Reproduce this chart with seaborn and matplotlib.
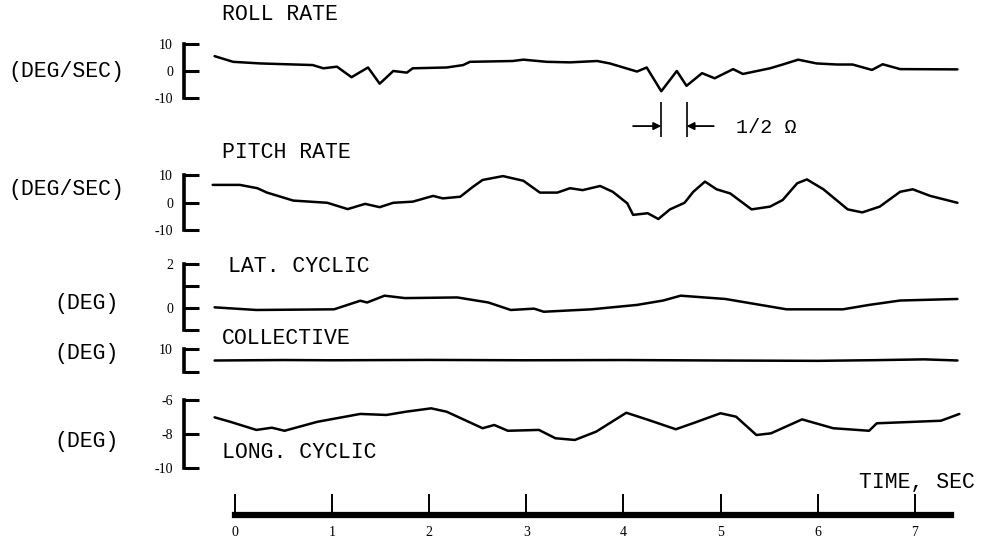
import matplotlib
matplotlib.use("Agg")
import numpy as np
import matplotlib.pyplot as plt
import seaborn as sns

# ---- recorded time histories ------------------------------------------
roll_t = [-0.21, -0.02, 0.26, 0.80, 0.91, 1.05, 1.20, 1.37, 1.49, 1.63, 1.77, 1.83,
          2.18, 2.35, 2.42, 2.86, 2.97, 3.21, 3.45, 3.73, 3.86, 4.14, 4.24, 4.39,
          4.55, 4.65, 4.81, 4.94, 5.13, 5.23, 5.51, 5.64, 5.80, 5.99, 6.20, 6.36,
          6.56, 6.67, 6.85, 7.44]
roll_v = [5.5, 3.4, 2.8, 2.2, 1.0, 1.6, -2.3, 1.3, -4.7, 0.0, -0.6, 1.0,
          1.3, 2.2, 3.4, 3.7, 4.2, 3.4, 3.2, 3.7, 2.8, -0.2, 1.3, -7.5,
          0.0, -5.5, -0.8, -2.7, 0.7, -1.1, 1.0, 2.4, 4.2, 2.8, 2.4, 2.4,
          0.4, 2.5, 0.7, 0.6]

pitch_t = [-0.23, 0.05, 0.23, 0.33, 0.60, 0.95, 1.16, 1.34, 1.49, 1.63, 1.83, 2.04,
           2.14, 2.32, 2.45, 2.55, 2.76, 2.97, 3.14, 3.32, 3.45, 3.58, 3.76, 3.89,
           4.04, 4.10, 4.25, 4.36, 4.48, 4.63, 4.72, 4.84, 4.96, 5.10, 5.32, 5.51,
           5.64, 5.79, 5.89, 6.06, 6.31, 6.46, 6.64, 6.85, 6.98, 7.16, 7.44]
pitch_v = [6.4, 6.4, 5.2, 3.6, 0.7, -0.1, -2.4, -0.5, -1.7, -0.1, 0.3, 2.4,
           1.5, 2.1, 5.7, 8.2, 9.6, 7.9, 3.6, 3.6, 5.2, 4.5, 6.0, 3.9,
           -0.3, -4.5, -3.9, -6.0, -2.5, -0.1, 3.9, 7.6, 4.8, 3.3, -2.5, -1.5,
           0.9, 7.0, 8.4, 4.8, -2.5, -3.6, -1.5, 3.9, 4.8, 2.4, -0.1]

lat_t = [-0.21, 0.22, 1.02, 1.29, 1.36, 1.54, 1.75, 2.29, 2.61, 2.84, 3.08,
         3.18, 3.67, 4.14, 4.41, 4.59, 5.05, 5.68, 6.26, 6.53, 6.85, 7.44]
lat_v = [0.03, -0.09, -0.06, 0.33, 0.25, 0.56, 0.45, 0.48, 0.25, -0.09, -0.03,
         -0.17, -0.06, 0.14, 0.34, 0.56, 0.41, -0.06, -0.06, 0.14, 0.34, 0.41]

coll_t = [-0.21, 0.5, 1.0, 2.0, 3.0, 4.0, 5.0, 6.0, 6.6, 7.1, 7.44]
coll_v = [9.0, 9.04, 9.02, 9.05, 9.02, 9.04, 9.0, 8.97, 9.03, 9.1, 9.0]

long_t = [-0.21, -0.05, 0.22, 0.38, 0.51, 0.85, 1.29, 1.56, 1.76, 2.02, 2.18,
          2.55, 2.67, 2.81, 3.13, 3.30, 3.50, 3.72, 4.03, 4.24, 4.54, 4.73,
          5.00, 5.16, 5.37, 5.52, 5.84, 6.16, 6.53, 6.61, 7.27, 7.46]
long_v = [-7.02, -7.28, -7.76, -7.63, -7.81, -7.28, -6.82, -6.88, -6.69, -6.49, -6.69,
          -7.66, -7.47, -7.81, -7.76, -8.25, -8.35, -7.86, -6.75, -7.14, -7.72, -7.34,
          -6.78, -6.98, -8.06, -7.96, -7.14, -7.66, -7.81, -7.37, -7.22, -6.82]

time_ticks = [0, 1, 2, 3, 4, 5, 6, 7]
time_end = 7.37

# ---- figure layout (pixel based) ---------------------------------------
W, H = 982, 546
sns.set_style("white")
plt.rcParams["font.family"] = ["Liberation Mono", "DejaVu Sans Mono"]

fig = plt.figure(figsize=(W / 100, H / 100), dpi=100)

X0, X1 = 184, 960          # horizontal extent of every strip
T0_PX, PX_PER_S = 235, 97.1
XLIM = ((X0 - T0_PX) / PX_PER_S, (X1 - T0_PX) / PX_PER_S)
TITLE_FS = 15.5
TICK_FONT = dict(family="Liberation Serif", fontsize=10)


def strip(top_px, bottom_px, ylim, ticks, labels):
    ax = fig.add_axes([X0 / W, 1 - bottom_px / H, (X1 - X0) / W,
                       (bottom_px - top_px) / H])
    ax.set_xlim(XLIM)
    ax.set_ylim(ylim)
    ax.patch.set_alpha(0)
    for side in ("top", "right", "bottom"):
        ax.spines[side].set_visible(False)
    ax.spines["left"].set_linewidth(2.6)
    ax.spines["left"].set_color("black")
    ax.set_xticks([])
    ax.set_yticks(ticks)
    ax.set_yticklabels(labels, **TICK_FONT)
    ax.tick_params(axis="y", direction="in", length=11, width=2.2,
                   pad=8, color="black", labelcolor="black", left=True)
    ax.set_xlabel("")
    ax.set_ylabel("")
    return ax


def trace(ax, t, v):
    sns.lineplot(x=t, y=v, ax=ax, color="black", linewidth=1.8,
                 estimator=None, clip_on=False)
    for ln in ax.lines:
        ln.set_solid_joinstyle("round")
        ln.set_solid_capstyle("round")
    ax.set_xlabel("")
    ax.set_ylabel("")


def label(x_px, y_px, s, ha="left", fs=TITLE_FS):
    fig.text(x_px / W, 1 - y_px / H, s, ha=ha, va="center",
             fontsize=fs, color="black")


# roll rate
ax_roll = strip(44, 98, (-10, 10), [10, 0, -10], ["10", "0", "-10"])
trace(ax_roll, roll_t, roll_v)
label(222, 15, "ROLL RATE")
label(8, 72, "(DEG/SEC)")

# half-revolution interval between the two deepest roll dips
order = np.argsort(roll_v)
t_a, t_b = sorted([roll_t[order[0]], roll_t[order[1]]])
ax_roll.vlines([t_a, t_b], -11.5, -24.5, colors="black", linewidth=1.2,
               clip_on=False)
y_arr = -20.4
ax_roll.annotate("", xy=(t_a, y_arr), xytext=(t_a - 0.29, y_arr),
                 arrowprops=dict(arrowstyle="-|>", color="black", lw=1.3,
                                 mutation_scale=11, shrinkA=0, shrinkB=0),
                 annotation_clip=False)
ax_roll.annotate("", xy=(t_b, y_arr), xytext=(t_b + 0.28, y_arr),
                 arrowprops=dict(arrowstyle="-|>", color="black", lw=1.3,
                                 mutation_scale=11, shrinkA=0, shrinkB=0),
                 annotation_clip=False)
ax_roll.text(t_b + 0.51, y_arr - 0.5, "1/2 \u03a9", ha="left", va="center",
             fontsize=TITLE_FS - 1, color="black")

# pitch rate
ax_pitch = strip(175, 230, (-10, 10), [10, 0, -10], ["10", "0", "-10"])
trace(ax_pitch, pitch_t, pitch_v)
label(222, 152, "PITCH RATE")
label(8, 190, "(DEG/SEC)")

# lateral cyclic
ax_lat = strip(264, 330, (-1, 2), [2, 1, 0, -1], ["2", "", "0", ""])
trace(ax_lat, lat_t, lat_v)
label(228, 266, "LAT. CYCLIC")
label(54, 303, "(DEG)")

# collective
ax_coll = strip(349, 372, (8, 10), [10, 8], ["10", ""])
trace(ax_coll, coll_t, coll_v)
label(222, 339, "COLLECTIVE")
label(54, 354, "(DEG)")

# longitudinal cyclic
ax_long = strip(400, 468, (-10, -6), [-6, -8, -10], ["-6", "-8", "-10"])
trace(ax_long, long_t, long_v)
label(222, 453, "LONG. CYCLIC")
label(54, 441, "(DEG)")

# time scale
ax_time = fig.add_axes([X0 / W, 1 - 515 / H, (X1 - X0) / W, 15 / H])
ax_time.set_xlim(XLIM)
ax_time.set_ylim(0, 1)
ax_time.patch.set_alpha(0)
for side in ("top", "right", "left"):
    ax_time.spines[side].set_visible(False)
ax_time.spines["bottom"].set_linewidth(4.5)
ax_time.spines["bottom"].set_color("black")
ax_time.spines["bottom"].set_bounds(0, time_end)
ax_time.set_yticks([])
ax_time.set_xticks(time_ticks)
ax_time.set_xticklabels([str(v) for v in time_ticks], **TICK_FONT)
ax_time.tick_params(axis="x", direction="in", length=15, width=1.4, pad=8,
                    color="black", labelcolor="black", bottom=True)
label(975, 483, "TIME, SEC", ha="right")

fig.savefig("out.png", dpi=100)
